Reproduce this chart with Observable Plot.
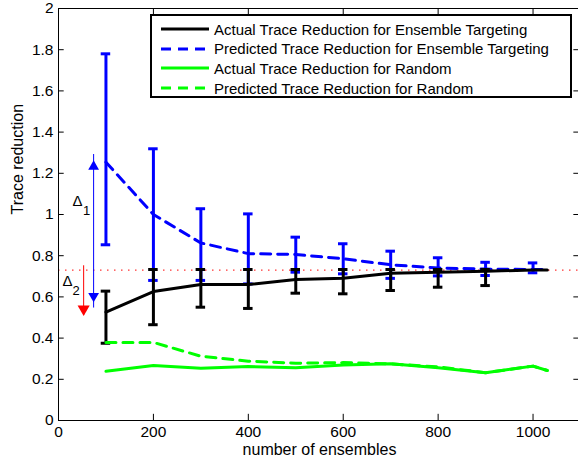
<!DOCTYPE html>
<html>
<head>
<meta charset="utf-8">
<script src="https://cdn.jsdelivr.net/npm/d3@7"></script>
<script src="https://cdn.jsdelivr.net/npm/@observablehq/plot@0.6"></script>
<style>
  html, body { margin: 0; padding: 0; background: #fff; }
  #wrap { position: relative; width: 578px; height: 465px; font-family: "Liberation Sans", Arial, sans-serif; }
  #legend { position: absolute; left: 150px; top: 14px; width: 418px; height: 80px; border: 2px solid #000; background: #fff; box-sizing: content-box; }
  .row { position: absolute; left: 0; height: 20px; display: flex; align-items: center; }
  .row svg { margin-left: 9px; margin-right: 5px; }
  .row span { font-size: 15px; color: #000; white-space: nowrap; }
</style>
</head>
<body>
<div id="wrap"></div>
<script>
// ---- data ----
const ensembles = [100, 200, 300, 400, 500, 600, 700, 800, 900, 1000, 1030];
const actualEnsemble = [0.526, 0.626, 0.66, 0.66, 0.685, 0.69, 0.715, 0.72, 0.725, 0.73, 0.73];
const predictedEnsemble = [1.254, 1.0, 0.862, 0.81, 0.806, 0.785, 0.756, 0.74, 0.735, 0.733, 0.733];
const actualRandom = [0.239, 0.267, 0.254, 0.262, 0.256, 0.27, 0.275, 0.256, 0.232, 0.264, 0.243];
const predictedRandom = [0.379, 0.379, 0.312, 0.288, 0.278, 0.281, 0.275, 0.26, 0.232, 0.264, 0.243];

const errX = [100, 200, 300, 400, 500, 600, 700, 800, 900, 1000];
const actualLow = [0.375, 0.465, 0.55, 0.544, 0.618, 0.615, 0.631, 0.647, 0.655, null];
const actualHigh = [0.628, 0.733, 0.733, 0.733, 0.733, 0.733, 0.733, 0.733, 0.733, null];
const predLow = [0.853, 0.68, 0.68, 0.663, 0.72, 0.712, 0.69, 0.702, 0.704, 0.717];
const predHigh = [1.78, 1.319, 1.028, 1.003, 0.89, 0.858, 0.822, 0.79, 0.768, 0.765];

const referenceLevel = 0.73;
const xTicks = [0, 200, 400, 600, 800, 1000];
const xTickLabels = ["0", "200", "400", "600", "800", "1000"];
const yTicks = [0, 0.2, 0.4, 0.6, 0.8, 1, 1.2, 1.4, 1.6, 1.8, 2];
const yTickLabels = ["0", "0.2", "0.4", "0.6", "0.8", "1", "1.2", "1.4", "1.6", "1.8", "2"];

// annotation arrows
const delta1Arrow = {x: 74, up: 1.262, down: 0.575};
const delta2Arrow = {x: 53, y0: 0.722, down: 0.51};
const deltaLabels = [
  {x: 40, y: 1.063, text: "Δ", size: 15},
  {x: 59, y: 1.02, text: "1", size: 13},
  {x: 19, y: 0.675, text: "Δ", size: 15},
  {x: 37, y: 0.63, text: "2", size: 13}
];

const legendItems = [
  {label: "Actual Trace Reduction for Ensemble Targeting", color: "#000000", dash: null},
  {label: "Predicted Trace Reduction for Ensemble Targeting", color: "#0000ff", dash: "10,7"},
  {label: "Actual Trace Reduction for Random", color: "#00ff00", dash: null},
  {label: "Predicted Trace Reduction for Random", color: "#00ff00", dash: "10,7"}
];

// ---- tables ----
const lines = ensembles.map((x, i) => ({x, ae: actualEnsemble[i], pe: predictedEnsemble[i], ar: actualRandom[i], pr: predictedRandom[i]}));
const errs = errX.map((x, i) => ({x, plo: predLow[i], phi: predHigh[i]}));
const aerrs = errX.map((x, i) => ({x, alo: actualLow[i], ahi: actualHigh[i]})).filter(d => d.alo != null);
const capHalf = 10;
const BLUE = "#0000ff", GREEN = "#00ff00", RED = "#ff0000";
const FONT = "Liberation Sans, Arial, sans-serif";

const chart = Plot.plot({
  width: 578,
  height: 465,
  marginLeft: 58,
  marginTop: 8,
  marginBottom: 45,
  marginRight: -2,
  style: {fontFamily: FONT, fontSize: "15px", background: "#fff", color: "#000"},
  x: {domain: [0, 1100]},
  y: {domain: [0, 2]},
  marks: [
    Plot.ruleY([referenceLevel], {stroke: RED, strokeWidth: 1.2, strokeDasharray: "1.5,5.5", strokeOpacity: 0.8}),
    // blue predicted errorbars
    Plot.ruleX(errs, {x: "x", y1: "plo", y2: "phi", stroke: BLUE, strokeWidth: 3}),
    Plot.ruleY(errs, {y: "plo", x1: d => d.x - capHalf, x2: d => d.x + capHalf, stroke: BLUE, strokeWidth: 3}),
    Plot.ruleY(errs, {y: "phi", x1: d => d.x - capHalf, x2: d => d.x + capHalf, stroke: BLUE, strokeWidth: 3}),
    Plot.line(lines, {x: "x", y: "pe", stroke: BLUE, strokeWidth: 3, strokeDasharray: "10,7"}),
    // black actual errorbars
    Plot.ruleX(aerrs, {x: "x", y1: "alo", y2: "ahi", stroke: "#000", strokeWidth: 3}),
    Plot.ruleY(aerrs, {y: "alo", x1: d => d.x - capHalf, x2: d => d.x + capHalf, stroke: "#000", strokeWidth: 3}),
    Plot.ruleY(aerrs, {y: "ahi", x1: d => d.x - capHalf, x2: d => d.x + capHalf, stroke: "#000", strokeWidth: 3}),
    Plot.line(lines, {x: "x", y: "ae", stroke: "#000", strokeWidth: 3}),
    // green lines
    Plot.line(lines, {x: "x", y: "ar", stroke: GREEN, strokeWidth: 3}),
    Plot.line(lines, {x: "x", y: "pr", stroke: GREEN, strokeWidth: 3, strokeDasharray: "10,7"}),
    // annotation arrows
    Plot.ruleX([delta1Arrow], {x: "x", y1: "down", y2: "up", stroke: BLUE, strokeWidth: 1, insetTop: 6, insetBottom: 6}),
    Plot.dot([delta1Arrow], {x: "x", y: "up", symbol: "triangle", r: 4, fill: BLUE, stroke: "none", dy: 6}),
    Plot.dot([delta1Arrow], {x: "x", y: "down", symbol: "triangle", r: 4, fill: BLUE, stroke: "none", rotate: 180, dy: -6}),
    Plot.ruleX([delta2Arrow], {x: "x", y1: "down", y2: "y0", stroke: RED, strokeWidth: 1, insetBottom: 6}),
    Plot.dot([delta2Arrow], {x: "x", y: "down", symbol: "triangle", r: 4.5, fill: RED, stroke: "none", rotate: 180, dy: -6.5}),
    Plot.text(deltaLabels, {x: "x", y: "y", text: "text", fontSize: d => d.size, fill: "#000", textAnchor: "middle"}),
    // frame and inward ticks
    Plot.frame({stroke: "#000", strokeWidth: 1}),
    Plot.ruleX(xTicks, {x: d => d, y1: 0, y2: 0.03, stroke: "#000", strokeWidth: 1}),
    Plot.ruleX(xTicks, {x: d => d, y1: 1.97, y2: 2, stroke: "#000", strokeWidth: 1}),
    Plot.ruleY(yTicks, {y: d => d, x1: 0, x2: 12, stroke: "#000", strokeWidth: 1}),
    Plot.ruleY(yTicks, {y: d => d, x1: 1086, x2: 1100, stroke: "#000", strokeWidth: 1}),
    Plot.axisX(xTicks, {tickSize: 0, tickPadding: 5, fontSize: 15.5, label: null, tickFormat: (d, i) => xTickLabels[i]}),
    Plot.axisY(yTicks, {tickSize: 0, tickPadding: 5, fontSize: 15.5, label: null, tickFormat: (d, i) => yTickLabels[i]}),
    Plot.text(["number of ensembles"], {frameAnchor: "bottom", dy: 34, fontSize: 16, fill: "#000"}),
    Plot.text(["Trace reduction"], {frameAnchor: "left", dx: -41, rotate: -90, fontSize: 16, fill: "#000"})
  ]
});

const wrap = document.getElementById("wrap");
wrap.appendChild(chart);

// legend overlay (inside the axes box)
const legend = document.createElement("div");
legend.id = "legend";
legendItems.forEach((item, i) => {
  const row = document.createElement("div");
  row.className = "row";
  row.style.top = (3 + i * 19.7) + "px";
  const s = d3.create("svg").attr("width", 48).attr("height", 10);
  s.append("line").attr("x1", 0).attr("x2", 48).attr("y1", 5).attr("y2", 5)
    .attr("stroke", item.color).attr("stroke-width", 3)
    .attr("stroke-dasharray", item.dash);
  row.appendChild(s.node());
  const t = document.createElement("span");
  t.textContent = item.label;
  row.appendChild(t);
  legend.appendChild(row);
});
wrap.appendChild(legend);
</script>
</body>
</html>
